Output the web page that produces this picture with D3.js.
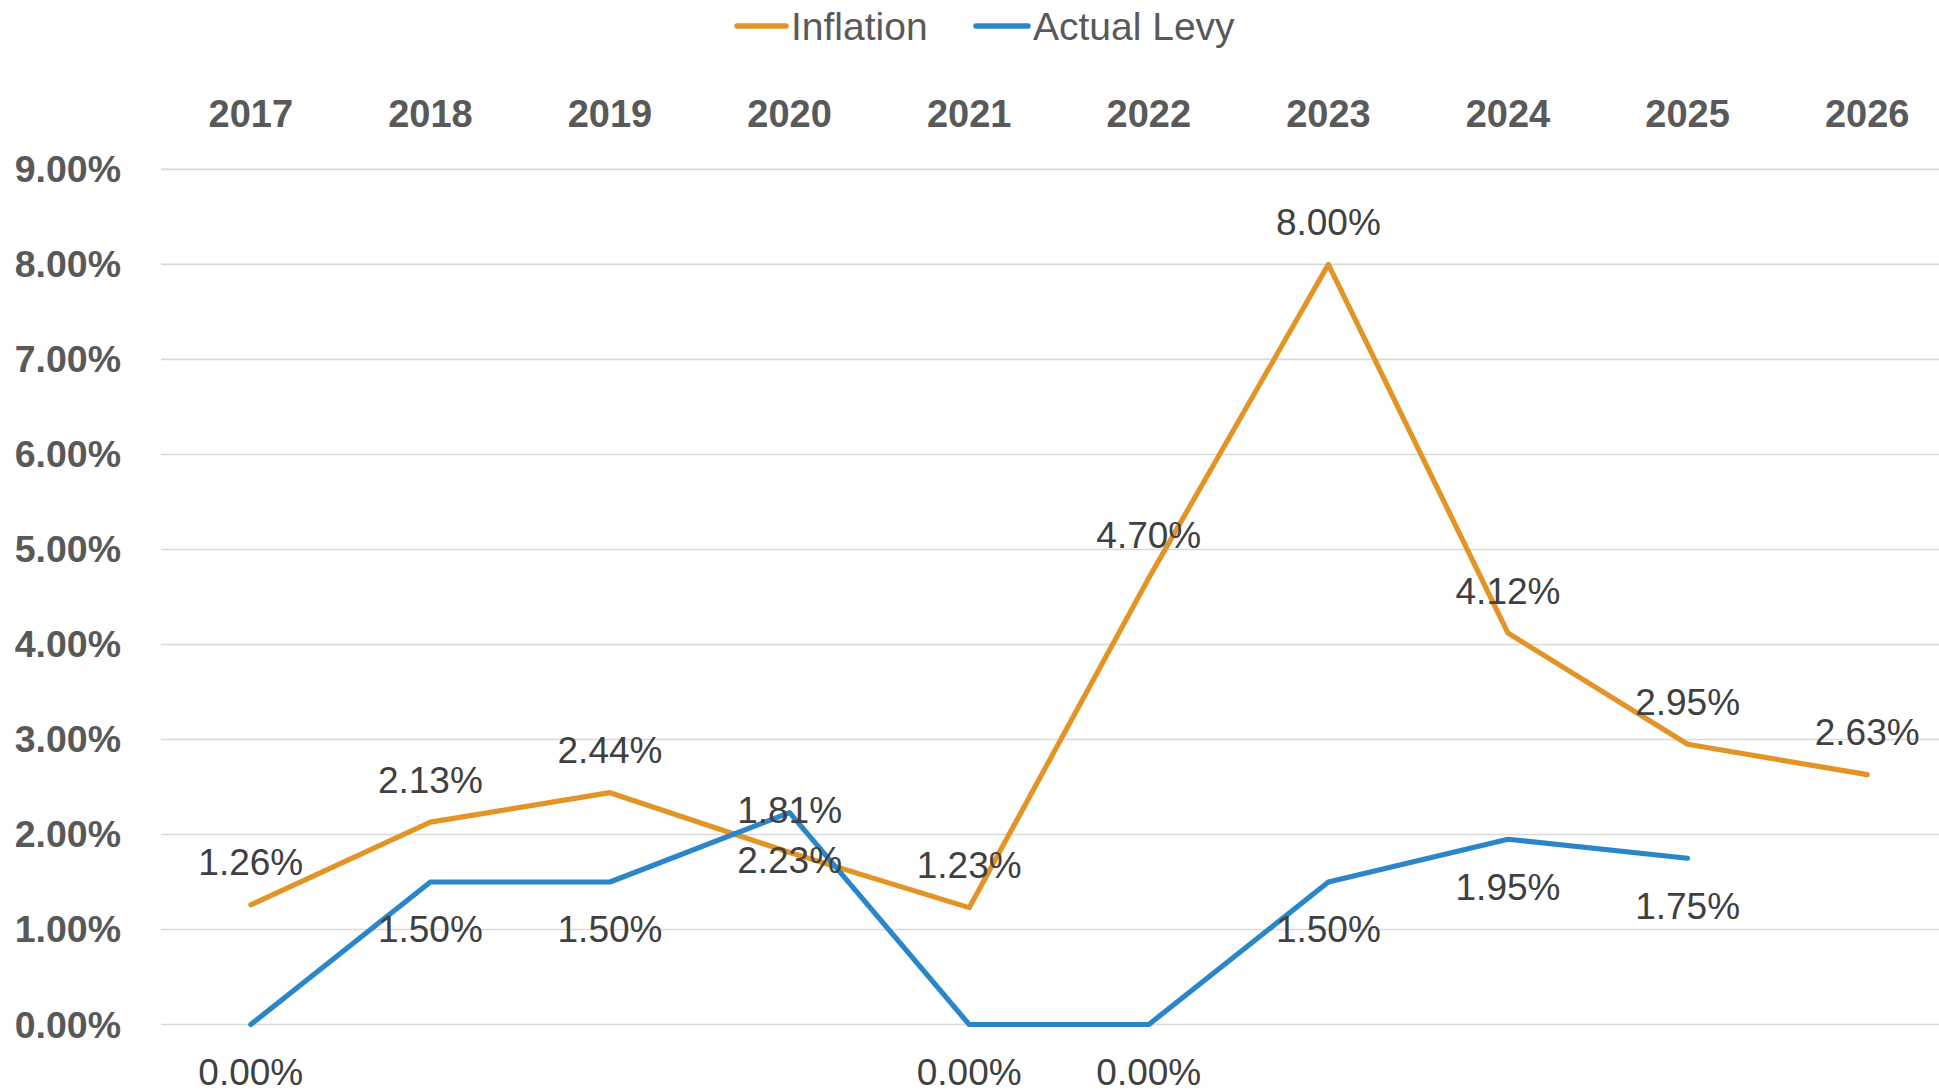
<!DOCTYPE html>
<html>
<head>
<meta charset="utf-8">
<script src="https://cdnjs.cloudflare.com/ajax/libs/d3/7.8.5/d3.min.js"></script>
<style>
  html, body { margin: 0; padding: 0; background: #ffffff; overflow: hidden; }
</style>
</head>
<body>
<div id="chart"></div>
<script>
// data
const years = ["2017", "2018", "2019", "2020", "2021", "2022", "2023", "2024", "2025", "2026"];
const inflation = [1.26, 2.13, 2.44, 1.81, 1.23, 4.70, 8.00, 4.12, 2.95, 2.63];
const actualLevy = [0.00, 1.50, 1.50, 2.23, 0.00, 0.00, 1.50, 1.95, 1.75, null];
const yTicks = [0, 1, 2, 3, 4, 5, 6, 7, 8, 9];

const width = 1939;
const height = 1091;

const series = [
    { name: "Inflation", values: inflation, color: "#E29426", labelDy: -42 },
    { name: "Actual Levy", values: actualLevy, color: "#2A86C8", labelDy: 48 }
];

const svg = d3.select("#chart")
    .append("svg")
    .attr("width", width)
    .attr("height", height)
    .attr("viewBox", `0 0 ${width} ${height}`);

// scales
const xScale = d3.scaleBand()
    .domain(years)
    .range([161, 1957]);
const xc = d => xScale(d) + xScale.bandwidth() / 2;

const yScale = d3.scaleLinear()
    .domain([0, 9])
    .range([1024.5, 169.4]);

// gridlines
svg.append("g")
    .selectAll("line")
    .data(yTicks)
    .join("line")
    .attr("x1", 161)
    .attr("x2", 1957)
    .attr("y1", d => yScale(d))
    .attr("y2", d => yScale(d))
    .attr("stroke", "#D9D9D9")
    .attr("stroke-width", 1.6);

// y axis labels
svg.append("g")
    .selectAll("text")
    .data(yTicks)
    .join("text")
    .attr("x", 121)
    .attr("y", d => yScale(d))
    .attr("text-anchor", "end")
    .attr("dominant-baseline", "central")
    .style("font-family", "'Liberation Sans', Arial, sans-serif")
    .style("font-size", "37.5px")
    .style("font-weight", "bold")
    .style("fill", "#595959")
    .text(d => d.toFixed(2) + "%");

// x axis labels on top
svg.append("g")
    .selectAll("text")
    .data(years)
    .join("text")
    .attr("x", d => xc(d))
    .attr("y", 114)
    .attr("text-anchor", "middle")
    .attr("dominant-baseline", "central")
    .style("font-family", "'Liberation Sans', Arial, sans-serif")
    .style("font-size", "38px")
    .style("font-weight", "bold")
    .style("fill", "#595959")
    .text(d => d);

// lines
const line = d3.line()
    .defined(d => d.v !== null)
    .x(d => xc(d.year))
    .y(d => yScale(d.v));

series.forEach(s => {
    const pts = years.map((y, i) => ({ year: y, v: s.values[i] }));
    svg.append("path")
        .datum(pts)
        .attr("fill", "none")
        .attr("stroke", s.color)
        .attr("stroke-width", 5.2)
        .attr("stroke-linejoin", "round")
        .attr("stroke-linecap", "round")
        .attr("d", line);
});

// data labels
series.forEach(s => {
    const pts = years.map((y, i) => ({ year: y, v: s.values[i] })).filter(d => d.v !== null);
    svg.append("g")
        .selectAll("text")
        .data(pts)
        .join("text")
        .attr("x", d => xc(d.year))
        .attr("y", d => yScale(d.v) + s.labelDy)
        .attr("text-anchor", "middle")
        .attr("dominant-baseline", "central")
        .style("font-family", "'Liberation Sans', Arial, sans-serif")
        .style("font-size", "37px")
        .style("fill", "#404040")
        .text(d => d.v.toFixed(2) + "%");
});

// legend
const legendItems = [
    { name: "Inflation", color: "#E29426", x1: 737, x2: 786 },
    { name: "Actual Levy", color: "#2A86C8", x1: 976, x2: 1028 }
];
const legend = svg.append("g");
legendItems.forEach(it => {
    legend.append("line")
        .attr("x1", it.x1)
        .attr("x2", it.x2)
        .attr("y1", 26)
        .attr("y2", 26)
        .attr("stroke", it.color)
        .attr("stroke-width", 5.5)
        .attr("stroke-linecap", "round");
    legend.append("text")
        .attr("x", it.x2 + 5)
        .attr("y", 26)
        .attr("dominant-baseline", "central")
        .style("font-family", "'Liberation Sans', Arial, sans-serif")
        .style("font-size", "39px")
        .style("fill", "#595959")
        .text(it.name);
});
</script>
</body>
</html>
